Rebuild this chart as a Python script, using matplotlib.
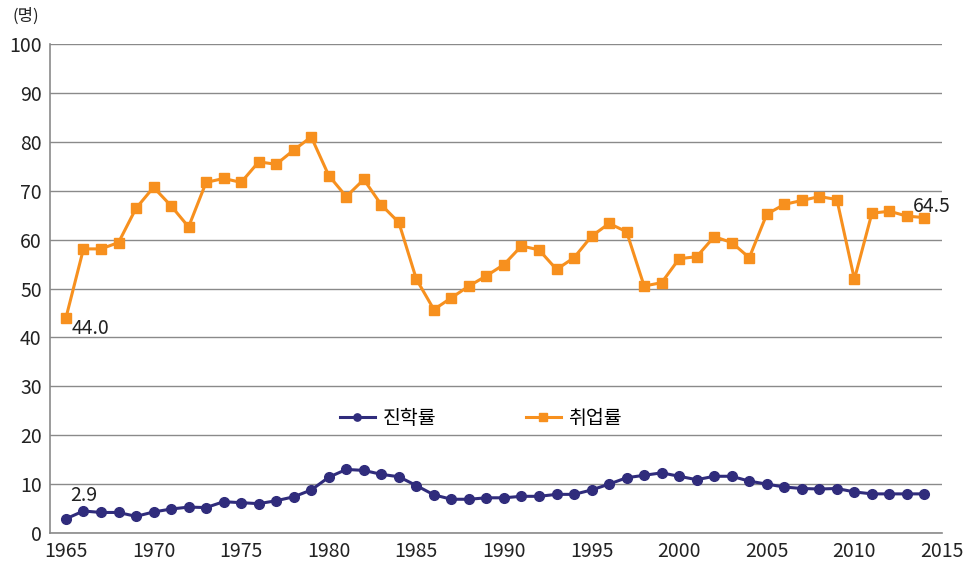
import matplotlib
matplotlib.use("Agg")
import matplotlib.pyplot as plt

plt.rcParams['font.family'] = ['Noto Sans CJK KR', 'DejaVu Sans']

years = list(range(1965, 2015))
advance_rate = [2.9, 4.5, 4.2, 4.2, 3.4, 4.3, 4.9, 5.3, 5.2, 6.4,
                6.2, 6.0, 6.6, 7.4, 8.8, 11.4, 13.0, 12.8, 12.0, 11.5,
                9.7, 7.8, 6.9, 6.9, 7.2, 7.2, 7.5, 7.5, 7.9, 7.9,
                8.8, 10.0, 11.3, 11.8, 12.3, 11.6, 10.9, 11.6, 11.6, 10.6,
                10.0, 9.4, 9.1, 9.0, 9.1, 8.4, 8.0, 8.0, 8.0, 8.0]
employ_rate = [44.0, 58.1, 58.1, 59.4, 66.4, 70.7, 66.9, 62.6, 71.7, 72.5,
               71.7, 75.9, 75.4, 78.3, 81.0, 73.1, 68.8, 72.3, 67.1, 63.5,
               51.9, 45.7, 48.1, 50.5, 52.6, 54.9, 58.7, 57.9, 53.9, 56.3,
               60.7, 63.3, 61.6, 50.5, 51.2, 56.1, 56.5, 60.6, 59.4, 56.3,
               65.2, 67.2, 68.0, 68.8, 68.2, 51.9, 65.4, 65.8, 64.8, 64.5]
series_names = ['진학률', '취업률']
x_ticks = list(range(1965, 2016, 5))
y_ticks = list(range(0, 101, 10))

orange = '#F7901E'
navy = '#302C7C'
grey = '#8A8A8A'

fig = plt.figure(figsize=(9.67, 5.68), dpi=100)
ax = fig.add_axes([50/967, 1-533/568, 892/967, 489/568])

ax.plot(years, advance_rate, color=navy, lw=2.2, marker='o', ms=7,
        label=series_names[0], zorder=3)
ax.plot(years, employ_rate, color=orange, lw=2.2, marker='s', ms=7.5,
        label=series_names[1], zorder=3)

ax.set_xlim(1964.09, 2015)
ax.set_ylim(0, 100)
ax.set_xticks(x_ticks)
ax.set_yticks(y_ticks)
ax.tick_params(axis='both', length=0, labelsize=14, colors='#222222', pad=6)
ax.grid(axis='y', color=grey, lw=1)
ax.set_axisbelow(True)
for s in ['top', 'right']:
    ax.spines[s].set_visible(False)
for s in ['left', 'bottom']:
    ax.spines[s].set_color(grey)
    ax.spines[s].set_linewidth(1.2)

ax.annotate(f'{employ_rate[0]:.1f}', (years[0], employ_rate[0]),
            xytext=(4, -8), textcoords='offset points', fontsize=14,
            color='#222222', va='center', ha='left')
ax.annotate(f'{advance_rate[0]:.1f}', (years[0], advance_rate[0]),
            xytext=(3, 17), textcoords='offset points', fontsize=14,
            color='#222222', va='center', ha='left')
ax.annotate(f'{employ_rate[-1]:.1f}', (years[-1], employ_rate[-1]),
            xytext=(-8, 8), textcoords='offset points', fontsize=14,
            color='#222222', va='center', ha='left')

leg = ax.legend(loc='center', bbox_to_anchor=(0.483, 0.235), ncol=2,
                frameon=False, fontsize=14, columnspacing=4.6,
                handlelength=1.8, handletextpad=0.4, markerscale=0.75)

fig.text(12/967, 1-16/568, '(명)', fontsize=12, color='#222222', va='center')

fig.savefig('out.png', dpi=100)
